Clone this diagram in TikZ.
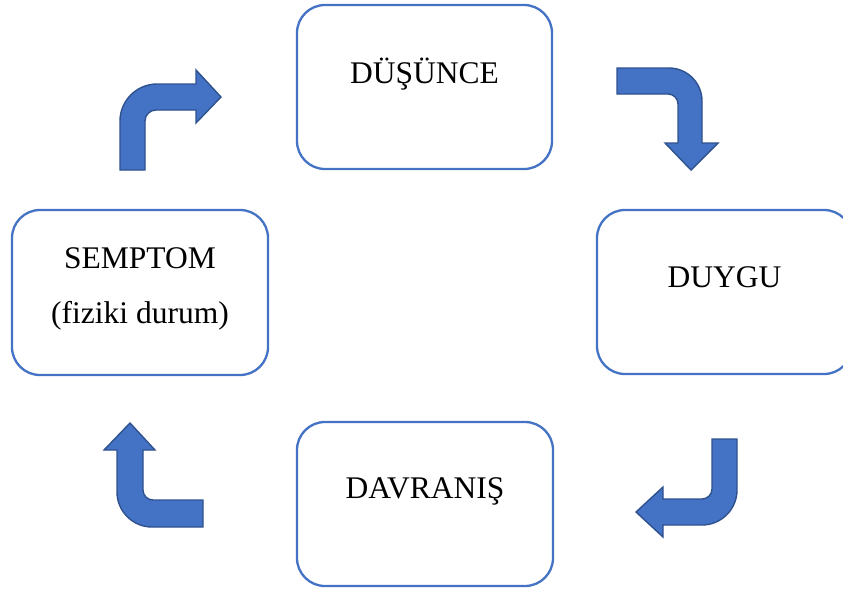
\documentclass[tikz,border=0pt]{standalone}
\usepackage{fontspec}
\setmainfont{Liberation Serif}
\definecolor{boxblue}{HTML}{4472C4}
\definecolor{arrowedge}{HTML}{2F528F}
\begin{document}
\begin{tikzpicture}[x=1pt,y=-1pt,
  stepbox/.style={draw=boxblue, line width=2.3pt, rounded corners=28pt, fill=white, inner sep=0pt},
  lbl/.style={anchor=base, inner sep=0pt, font=\fontsize{31.5}{38}\selectfont},
  bentarrow/.style={fill=boxblue, draw=arrowedge, line width=1.4pt, line join=miter}]
\useasboundingbox (0,0) rectangle (843,590);
% boxes
\node[stepbox, minimum width=255pt, minimum height=164pt] (dus) at (424.5,87) {};
\node[stepbox, minimum width=255pt, minimum height=164pt] (duy) at (724.5,292) {};
\node[stepbox, minimum width=256pt, minimum height=165pt] (sem) at (140,292.5) {};
\node[stepbox, minimum width=256pt, minimum height=164pt] (dav) at (425,504) {};
% labels
\node[lbl] (tdus) at (424.5,83) {DÜŞÜNCE};
\node[lbl] (tduy) at (724.5,287) {DUYGU};
\node[lbl] (tsem1) at (140,268) {SEMPTOM};
\node[lbl] (tsem2) at (140,323) {(fiziki durum)};
\node[lbl] (tdav) at (425,498) {DAVRANIŞ};
% bent arrows
\draw[bentarrow] (120,170) -- (120,121) .. controls (120,100.6) and (136.6,84) .. (157,84)
  -- (196,84) -- (196,70) -- (221,97) -- (196,123) -- (196,110) -- (156,110)
  .. controls (149.9,110) and (145,114.9) .. (145,121) -- (145,170) -- cycle;
\draw[bentarrow] (617,68) -- (669,68) .. controls (687.2,68) and (702,82.8) .. (702,101)
  -- (702,143) -- (718,143) -- (691,170) -- (665,143) -- (678,143) -- (678,104)
  .. controls (678,98.5) and (673.5,94) .. (668,94) -- (617,94) -- cycle;
\draw[bentarrow] (712,439) -- (737,439) -- (737,490) .. controls (737,509.3) and (721.3,525) .. (702,525)
  -- (663,525) -- (663,537) -- (636,512) -- (663,487) -- (663,499) -- (702,499)
  .. controls (707.5,499) and (712,494.5) .. (712,489) -- cycle;
\draw[bentarrow] (203,527) -- (152,527) .. controls (132.7,527) and (117,511.3) .. (117,492)
  -- (117,450) -- (104,450) -- (130,423) -- (155,450) -- (143,450) -- (143,490)
  .. controls (143,495.5) and (147.5,500) .. (153,500) -- (203,500) -- cycle;
\end{tikzpicture}
\end{document}
